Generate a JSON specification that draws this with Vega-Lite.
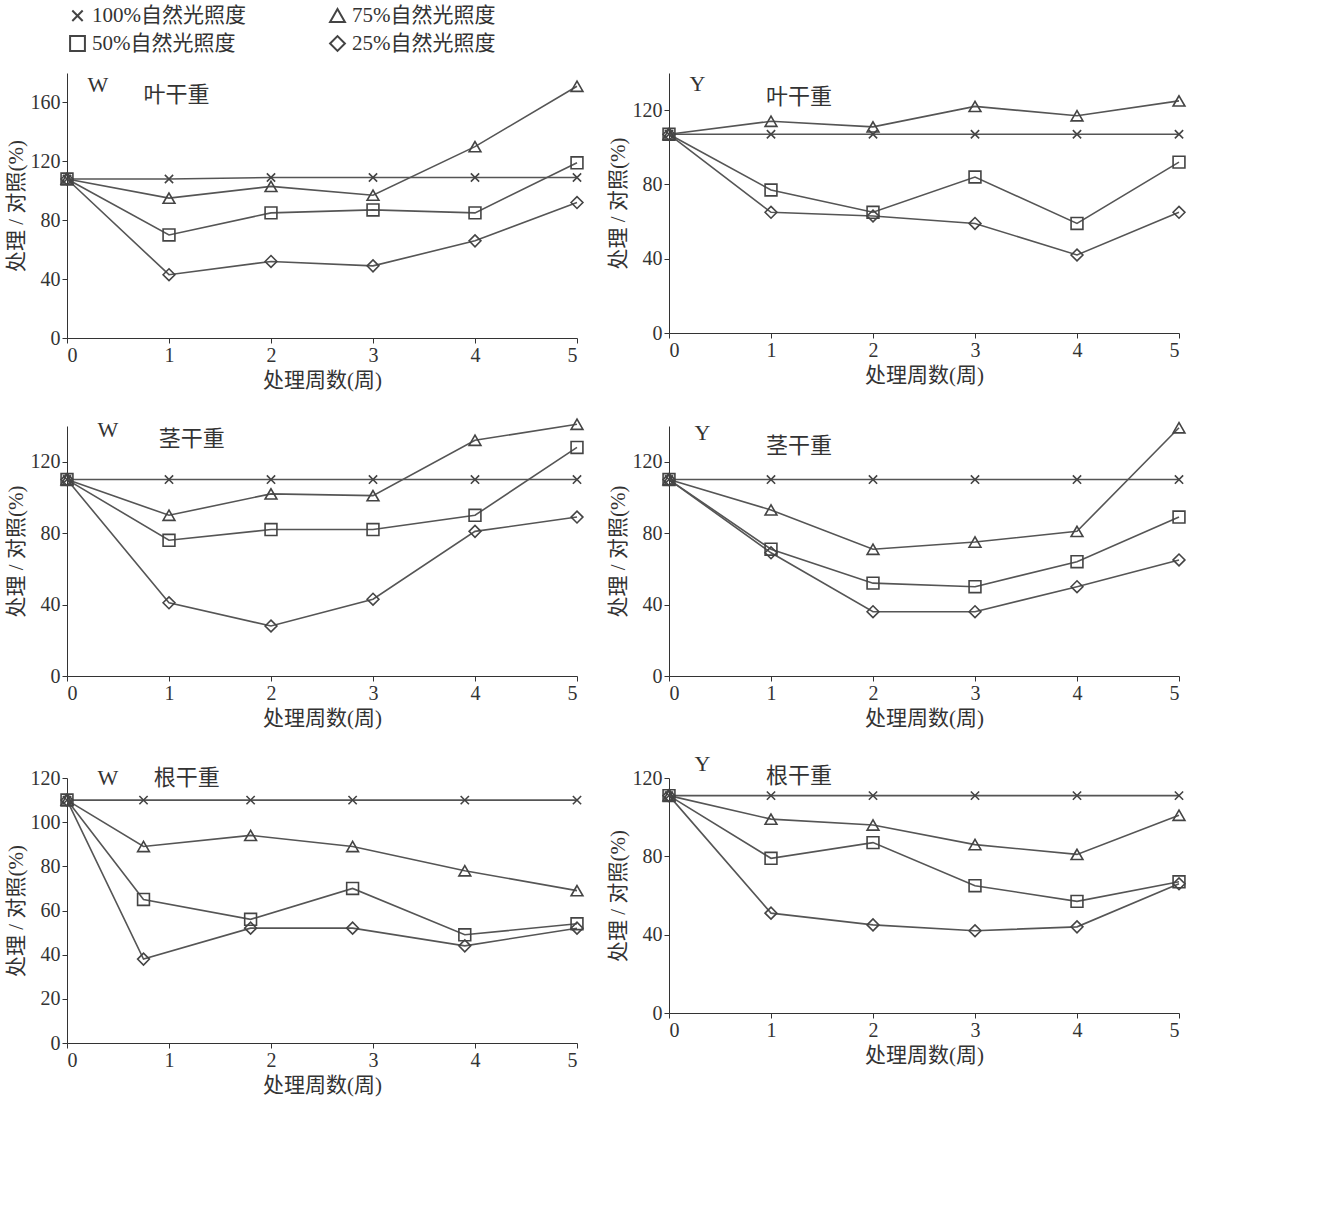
{
"$schema":"https://vega.github.io/schema/vega-lite/v6.json",
"background":"white",
"config":{"font":"Liberation Serif, Noto Sans CJK SC","view":{"stroke":null},"axis":{"grid":false,"domainColor":"#333","tickColor":"#333","labelFontSize":20,"titleFontSize":21,"labelColor":"#333","titleColor":"#333","titleFontWeight":"normal","labelOverlap":false,"format":"d"},"legend":{"labelFontSize":21,"labelColor":"#333","symbolSize":220,"symbolStrokeWidth":2,"columns":2,"columnPadding":80,"rowPadding":6,"orient":"top","direction":"horizontal"}},
"datasets":{"d":[
{"p":"WL","x":0,"y":108,"s":"100%自然光照度"},{"p":"WL","x":1,"y":108,"s":"100%自然光照度"},{"p":"WL","x":2,"y":109,"s":"100%自然光照度"},{"p":"WL","x":3,"y":109,"s":"100%自然光照度"},{"p":"WL","x":4,"y":109,"s":"100%自然光照度"},{"p":"WL","x":5,"y":109,"s":"100%自然光照度"},
{"p":"WL","x":0,"y":108,"s":"75%自然光照度"},{"p":"WL","x":1,"y":95,"s":"75%自然光照度"},{"p":"WL","x":2,"y":103,"s":"75%自然光照度"},{"p":"WL","x":3,"y":97,"s":"75%自然光照度"},{"p":"WL","x":4,"y":130,"s":"75%自然光照度"},{"p":"WL","x":5,"y":171,"s":"75%自然光照度"},
{"p":"WL","x":0,"y":108,"s":"50%自然光照度"},{"p":"WL","x":1,"y":70,"s":"50%自然光照度"},{"p":"WL","x":2,"y":85,"s":"50%自然光照度"},{"p":"WL","x":3,"y":87,"s":"50%自然光照度"},{"p":"WL","x":4,"y":85,"s":"50%自然光照度"},{"p":"WL","x":5,"y":119,"s":"50%自然光照度"},
{"p":"WL","x":0,"y":108,"s":"25%自然光照度"},{"p":"WL","x":1,"y":43,"s":"25%自然光照度"},{"p":"WL","x":2,"y":52,"s":"25%自然光照度"},{"p":"WL","x":3,"y":49,"s":"25%自然光照度"},{"p":"WL","x":4,"y":66,"s":"25%自然光照度"},{"p":"WL","x":5,"y":92,"s":"25%自然光照度"},
{"p":"YL","x":0,"y":107,"s":"100%自然光照度"},{"p":"YL","x":1,"y":107,"s":"100%自然光照度"},{"p":"YL","x":2,"y":107,"s":"100%自然光照度"},{"p":"YL","x":3,"y":107,"s":"100%自然光照度"},{"p":"YL","x":4,"y":107,"s":"100%自然光照度"},{"p":"YL","x":5,"y":107,"s":"100%自然光照度"},
{"p":"YL","x":0,"y":107,"s":"75%自然光照度"},{"p":"YL","x":1,"y":114,"s":"75%自然光照度"},{"p":"YL","x":2,"y":111,"s":"75%自然光照度"},{"p":"YL","x":3,"y":122,"s":"75%自然光照度"},{"p":"YL","x":4,"y":117,"s":"75%自然光照度"},{"p":"YL","x":5,"y":125,"s":"75%自然光照度"},
{"p":"YL","x":0,"y":107,"s":"50%自然光照度"},{"p":"YL","x":1,"y":77,"s":"50%自然光照度"},{"p":"YL","x":2,"y":65,"s":"50%自然光照度"},{"p":"YL","x":3,"y":84,"s":"50%自然光照度"},{"p":"YL","x":4,"y":59,"s":"50%自然光照度"},{"p":"YL","x":5,"y":92,"s":"50%自然光照度"},
{"p":"YL","x":0,"y":107,"s":"25%自然光照度"},{"p":"YL","x":1,"y":65,"s":"25%自然光照度"},{"p":"YL","x":2,"y":63,"s":"25%自然光照度"},{"p":"YL","x":3,"y":59,"s":"25%自然光照度"},{"p":"YL","x":4,"y":42,"s":"25%自然光照度"},{"p":"YL","x":5,"y":65,"s":"25%自然光照度"},
{"p":"WS","x":0,"y":110,"s":"100%自然光照度"},{"p":"WS","x":1,"y":110,"s":"100%自然光照度"},{"p":"WS","x":2,"y":110,"s":"100%自然光照度"},{"p":"WS","x":3,"y":110,"s":"100%自然光照度"},{"p":"WS","x":4,"y":110,"s":"100%自然光照度"},{"p":"WS","x":5,"y":110,"s":"100%自然光照度"},
{"p":"WS","x":0,"y":110,"s":"75%自然光照度"},{"p":"WS","x":1,"y":90,"s":"75%自然光照度"},{"p":"WS","x":2,"y":102,"s":"75%自然光照度"},{"p":"WS","x":3,"y":101,"s":"75%自然光照度"},{"p":"WS","x":4,"y":132,"s":"75%自然光照度"},{"p":"WS","x":5,"y":141,"s":"75%自然光照度"},
{"p":"WS","x":0,"y":110,"s":"50%自然光照度"},{"p":"WS","x":1,"y":76,"s":"50%自然光照度"},{"p":"WS","x":2,"y":82,"s":"50%自然光照度"},{"p":"WS","x":3,"y":82,"s":"50%自然光照度"},{"p":"WS","x":4,"y":90,"s":"50%自然光照度"},{"p":"WS","x":5,"y":128,"s":"50%自然光照度"},
{"p":"WS","x":0,"y":110,"s":"25%自然光照度"},{"p":"WS","x":1,"y":41,"s":"25%自然光照度"},{"p":"WS","x":2,"y":28,"s":"25%自然光照度"},{"p":"WS","x":3,"y":43,"s":"25%自然光照度"},{"p":"WS","x":4,"y":81,"s":"25%自然光照度"},{"p":"WS","x":5,"y":89,"s":"25%自然光照度"},
{"p":"YS","x":0,"y":110,"s":"100%自然光照度"},{"p":"YS","x":1,"y":110,"s":"100%自然光照度"},{"p":"YS","x":2,"y":110,"s":"100%自然光照度"},{"p":"YS","x":3,"y":110,"s":"100%自然光照度"},{"p":"YS","x":4,"y":110,"s":"100%自然光照度"},{"p":"YS","x":5,"y":110,"s":"100%自然光照度"},
{"p":"YS","x":0,"y":110,"s":"75%自然光照度"},{"p":"YS","x":1,"y":93,"s":"75%自然光照度"},{"p":"YS","x":2,"y":71,"s":"75%自然光照度"},{"p":"YS","x":3,"y":75,"s":"75%自然光照度"},{"p":"YS","x":4,"y":81,"s":"75%自然光照度"},{"p":"YS","x":5,"y":139,"s":"75%自然光照度"},
{"p":"YS","x":0,"y":110,"s":"50%自然光照度"},{"p":"YS","x":1,"y":71,"s":"50%自然光照度"},{"p":"YS","x":2,"y":52,"s":"50%自然光照度"},{"p":"YS","x":3,"y":50,"s":"50%自然光照度"},{"p":"YS","x":4,"y":64,"s":"50%自然光照度"},{"p":"YS","x":5,"y":89,"s":"50%自然光照度"},
{"p":"YS","x":0,"y":110,"s":"25%自然光照度"},{"p":"YS","x":1,"y":69,"s":"25%自然光照度"},{"p":"YS","x":2,"y":36,"s":"25%自然光照度"},{"p":"YS","x":3,"y":36,"s":"25%自然光照度"},{"p":"YS","x":4,"y":50,"s":"25%自然光照度"},{"p":"YS","x":5,"y":65,"s":"25%自然光照度"},
{"p":"WR","x":0,"y":110,"s":"100%自然光照度"},{"p":"WR","x":0.75,"y":110,"s":"100%自然光照度"},{"p":"WR","x":1.8,"y":110,"s":"100%自然光照度"},{"p":"WR","x":2.8,"y":110,"s":"100%自然光照度"},{"p":"WR","x":3.9,"y":110,"s":"100%自然光照度"},{"p":"WR","x":5,"y":110,"s":"100%自然光照度"},
{"p":"WR","x":0,"y":110,"s":"75%自然光照度"},{"p":"WR","x":0.75,"y":89,"s":"75%自然光照度"},{"p":"WR","x":1.8,"y":94,"s":"75%自然光照度"},{"p":"WR","x":2.8,"y":89,"s":"75%自然光照度"},{"p":"WR","x":3.9,"y":78,"s":"75%自然光照度"},{"p":"WR","x":5,"y":69,"s":"75%自然光照度"},
{"p":"WR","x":0,"y":110,"s":"50%自然光照度"},{"p":"WR","x":0.75,"y":65,"s":"50%自然光照度"},{"p":"WR","x":1.8,"y":56,"s":"50%自然光照度"},{"p":"WR","x":2.8,"y":70,"s":"50%自然光照度"},{"p":"WR","x":3.9,"y":49,"s":"50%自然光照度"},{"p":"WR","x":5,"y":54,"s":"50%自然光照度"},
{"p":"WR","x":0,"y":110,"s":"25%自然光照度"},{"p":"WR","x":0.75,"y":38,"s":"25%自然光照度"},{"p":"WR","x":1.8,"y":52,"s":"25%自然光照度"},{"p":"WR","x":2.8,"y":52,"s":"25%自然光照度"},{"p":"WR","x":3.9,"y":44,"s":"25%自然光照度"},{"p":"WR","x":5,"y":52,"s":"25%自然光照度"},
{"p":"YR","x":0,"y":111,"s":"100%自然光照度"},{"p":"YR","x":1,"y":111,"s":"100%自然光照度"},{"p":"YR","x":2,"y":111,"s":"100%自然光照度"},{"p":"YR","x":3,"y":111,"s":"100%自然光照度"},{"p":"YR","x":4,"y":111,"s":"100%自然光照度"},{"p":"YR","x":5,"y":111,"s":"100%自然光照度"},
{"p":"YR","x":0,"y":111,"s":"75%自然光照度"},{"p":"YR","x":1,"y":99,"s":"75%自然光照度"},{"p":"YR","x":2,"y":96,"s":"75%自然光照度"},{"p":"YR","x":3,"y":86,"s":"75%自然光照度"},{"p":"YR","x":4,"y":81,"s":"75%自然光照度"},{"p":"YR","x":5,"y":101,"s":"75%自然光照度"},
{"p":"YR","x":0,"y":111,"s":"50%自然光照度"},{"p":"YR","x":1,"y":79,"s":"50%自然光照度"},{"p":"YR","x":2,"y":87,"s":"50%自然光照度"},{"p":"YR","x":3,"y":65,"s":"50%自然光照度"},{"p":"YR","x":4,"y":57,"s":"50%自然光照度"},{"p":"YR","x":5,"y":67,"s":"50%自然光照度"},
{"p":"YR","x":0,"y":111,"s":"25%自然光照度"},{"p":"YR","x":1,"y":51,"s":"25%自然光照度"},{"p":"YR","x":2,"y":45,"s":"25%自然光照度"},{"p":"YR","x":3,"y":42,"s":"25%自然光照度"},{"p":"YR","x":4,"y":44,"s":"25%自然光照度"},{"p":"YR","x":5,"y":66,"s":"25%自然光照度"}
],
"lab":[
{"p":"WL","x":0.2,"y":172,"t":"W"},{"p":"WL","x":0.75,"y":165,"t":"叶干重"},
{"p":"YL","x":0.2,"y":134,"t":"Y"},{"p":"YL","x":0.95,"y":127,"t":"叶干重"},
{"p":"WS","x":0.3,"y":138,"t":"W"},{"p":"WS","x":0.9,"y":133,"t":"茎干重"},
{"p":"YS","x":0.25,"y":136,"t":"Y"},{"p":"YS","x":0.95,"y":129,"t":"茎干重"},
{"p":"WR","x":0.3,"y":120,"t":"W"},{"p":"WR","x":0.85,"y":120,"t":"根干重"},
{"p":"YR","x":0.25,"y":127,"t":"Y"},{"p":"YR","x":0.95,"y":121,"t":"根干重"}
]},
"vconcat":[
{"hconcat":[
{"width":510,"height":265,"layer":[
{"data":{"name":"d"},"transform":[{"filter":"datum.p=='WL'"}],"mark":{"type":"line","color":"#555","strokeWidth":1.6},"encoding":{"x":{"field":"x","type":"quantitative","scale":{"domain":[0,5]},"axis":{"title":"处理周数(周)","values":[0,1,2,3,4,5]}},"y":{"field":"y","type":"quantitative","scale":{"domain":[0,180]},"axis":{"title":"处理 / 对照(%)","values":[0,20,40,60,80,100,120,140,160,180]}},"detail":{"field":"s"}}},
{"data":{"name":"d"},"transform":[{"filter":"datum.p=='WL'"}],"mark":{"type":"point","color":"#444","filled":false,"strokeWidth":1.6,"size":140,"opacity":1},"encoding":{"x":{"field":"x","type":"quantitative"},"y":{"field":"y","type":"quantitative"},"shape":{"field":"s","type":"nominal","title":null,"sort":["100%自然光照度","75%自然光照度","50%自然光照度","25%自然光照度"],"scale":{"domain":["100%自然光照度","75%自然光照度","50%自然光照度","25%自然光照度"],"range":["M-0.7,-0.7L0.7,0.7M0.7,-0.7L-0.7,0.7","triangle-up","square","diamond"]}}}},
{"data":{"name":"lab"},"transform":[{"filter":"datum.p=='WL'"}],"mark":{"type":"text","fontSize":22,"color":"#333","align":"left"},"encoding":{"x":{"field":"x","type":"quantitative"},"y":{"field":"y","type":"quantitative"},"text":{"field":"t"}}}]},
{"width":510,"height":260,"layer":[
{"data":{"name":"d"},"transform":[{"filter":"datum.p=='YL'"}],"mark":{"type":"line","color":"#555","strokeWidth":1.6},"encoding":{"x":{"field":"x","type":"quantitative","scale":{"domain":[0,5]},"axis":{"title":"处理周数(周)","values":[0,1,2,3,4,5]}},"y":{"field":"y","type":"quantitative","scale":{"domain":[0,140]},"axis":{"title":"处理 / 对照(%)","values":[0,20,40,60,80,100,120,140]}},"detail":{"field":"s"}}},
{"data":{"name":"d"},"transform":[{"filter":"datum.p=='YL'"}],"mark":{"type":"point","color":"#444","filled":false,"strokeWidth":1.6,"size":140,"opacity":1},"encoding":{"x":{"field":"x","type":"quantitative"},"y":{"field":"y","type":"quantitative"},"shape":{"field":"s","type":"nominal"}}},
{"data":{"name":"lab"},"transform":[{"filter":"datum.p=='YL'"}],"mark":{"type":"text","fontSize":22,"color":"#333","align":"left"},"encoding":{"x":{"field":"x","type":"quantitative"},"y":{"field":"y","type":"quantitative"},"text":{"field":"t"}}}]}
]},
{"hconcat":[
{"width":510,"height":250,"layer":[
{"data":{"name":"d"},"transform":[{"filter":"datum.p=='WS'"}],"mark":{"type":"line","color":"#555","strokeWidth":1.6},"encoding":{"x":{"field":"x","type":"quantitative","scale":{"domain":[0,5]},"axis":{"title":"处理周数(周)","values":[0,1,2,3,4,5]}},"y":{"field":"y","type":"quantitative","scale":{"domain":[0,140]},"axis":{"title":"处理 / 对照(%)","values":[0,20,40,60,80,100,120,140]}},"detail":{"field":"s"}}},
{"data":{"name":"d"},"transform":[{"filter":"datum.p=='WS'"}],"mark":{"type":"point","color":"#444","filled":false,"strokeWidth":1.6,"size":140,"opacity":1},"encoding":{"x":{"field":"x","type":"quantitative"},"y":{"field":"y","type":"quantitative"},"shape":{"field":"s","type":"nominal"}}},
{"data":{"name":"lab"},"transform":[{"filter":"datum.p=='WS'"}],"mark":{"type":"text","fontSize":22,"color":"#333","align":"left"},"encoding":{"x":{"field":"x","type":"quantitative"},"y":{"field":"y","type":"quantitative"},"text":{"field":"t"}}}]},
{"width":510,"height":250,"layer":[
{"data":{"name":"d"},"transform":[{"filter":"datum.p=='YS'"}],"mark":{"type":"line","color":"#555","strokeWidth":1.6},"encoding":{"x":{"field":"x","type":"quantitative","scale":{"domain":[0,5]},"axis":{"title":"处理周数(周)","values":[0,1,2,3,4,5]}},"y":{"field":"y","type":"quantitative","scale":{"domain":[0,140]},"axis":{"title":"处理 / 对照(%)","values":[0,20,40,60,80,100,120,140]}},"detail":{"field":"s"}}},
{"data":{"name":"d"},"transform":[{"filter":"datum.p=='YS'"}],"mark":{"type":"point","color":"#444","filled":false,"strokeWidth":1.6,"size":140,"opacity":1},"encoding":{"x":{"field":"x","type":"quantitative"},"y":{"field":"y","type":"quantitative"},"shape":{"field":"s","type":"nominal"}}},
{"data":{"name":"lab"},"transform":[{"filter":"datum.p=='YS'"}],"mark":{"type":"text","fontSize":22,"color":"#333","align":"left"},"encoding":{"x":{"field":"x","type":"quantitative"},"y":{"field":"y","type":"quantitative"},"text":{"field":"t"}}}]}
]},
{"hconcat":[
{"width":510,"height":265,"layer":[
{"data":{"name":"d"},"transform":[{"filter":"datum.p=='WR'"}],"mark":{"type":"line","color":"#555","strokeWidth":1.6},"encoding":{"x":{"field":"x","type":"quantitative","scale":{"domain":[0,5]},"axis":{"title":"处理周数(周)","values":[0,1,2,3,4,5]}},"y":{"field":"y","type":"quantitative","scale":{"domain":[0,120]},"axis":{"title":"处理 / 对照(%)","values":[0,20,40,60,80,100,120]}},"detail":{"field":"s"}}},
{"data":{"name":"d"},"transform":[{"filter":"datum.p=='WR'"}],"mark":{"type":"point","color":"#444","filled":false,"strokeWidth":1.6,"size":140,"opacity":1},"encoding":{"x":{"field":"x","type":"quantitative"},"y":{"field":"y","type":"quantitative"},"shape":{"field":"s","type":"nominal"}}},
{"data":{"name":"lab"},"transform":[{"filter":"datum.p=='WR'"}],"mark":{"type":"text","fontSize":22,"color":"#333","align":"left"},"encoding":{"x":{"field":"x","type":"quantitative"},"y":{"field":"y","type":"quantitative"},"text":{"field":"t"}}}]},
{"width":510,"height":235,"layer":[
{"data":{"name":"d"},"transform":[{"filter":"datum.p=='YR'"}],"mark":{"type":"line","color":"#555","strokeWidth":1.6},"encoding":{"x":{"field":"x","type":"quantitative","scale":{"domain":[0,5]},"axis":{"title":"处理周数(周)","values":[0,1,2,3,4,5]}},"y":{"field":"y","type":"quantitative","scale":{"domain":[0,120]},"axis":{"title":"处理 / 对照(%)","values":[0,20,40,60,80,100,120]}},"detail":{"field":"s"}}},
{"data":{"name":"d"},"transform":[{"filter":"datum.p=='YR'"}],"mark":{"type":"point","color":"#444","filled":false,"strokeWidth":1.6,"size":140,"opacity":1},"encoding":{"x":{"field":"x","type":"quantitative"},"y":{"field":"y","type":"quantitative"},"shape":{"field":"s","type":"nominal"}}},
{"data":{"name":"lab"},"transform":[{"filter":"datum.p=='YR'"}],"mark":{"type":"text","fontSize":22,"color":"#333","align":"left"},"encoding":{"x":{"field":"x","type":"quantitative"},"y":{"field":"y","type":"quantitative"},"text":{"field":"t"}}}]}
]}
],
"spacing":25,
"resolve":{"scale":{"shape":"shared"},"legend":{"shape":"shared"}}
}
